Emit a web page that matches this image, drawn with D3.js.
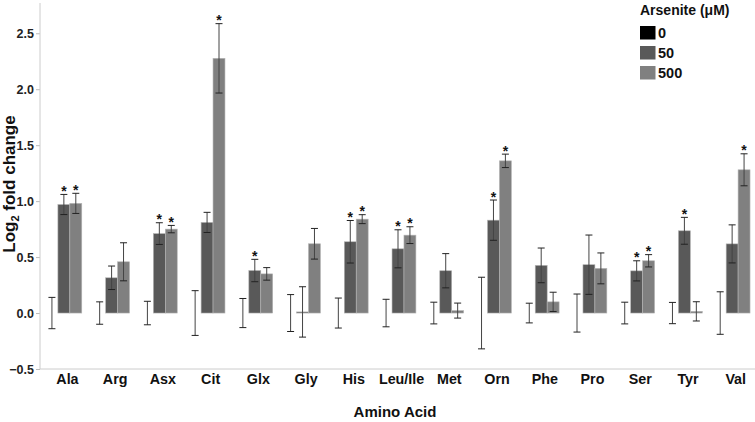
<!DOCTYPE html>
<html><head><meta charset="utf-8">
<script src="https://cdn.jsdelivr.net/npm/d3@7/dist/d3.min.js"></script>
<style>body{margin:0;background:#fff}svg{display:block;font-family:"Liberation Sans",Arial,sans-serif}</style>
</head><body><svg id="c" width="755" height="422"></svg>
<script>
const categories = ["Ala","Arg","Asx","Cit","Glx","Gly","His","Leu/Ile","Met","Orn","Phe","Pro","Ser","Tyr","Val"];
const seriesNames = ["0","50","500"];
const values0   = [0,0,0,0,0,0,0,0,0,0,0,0,0,0,0];
const errors0   = [0.14,0.10,0.105,0.20,0.13,0.165,0.134,0.123,0.097,0.32,0.088,0.17,0.097,0.095,0.19];
const values50  = [0.97,0.315,0.71,0.81,0.38,0.01,0.637,0.574,0.378,0.83,0.426,0.432,0.377,0.735,0.618];
const errors50  = [0.09,0.105,0.097,0.09,0.10,0.225,0.19,0.17,0.153,0.18,0.155,0.265,0.09,0.12,0.17];
const values500 = [0.98,0.458,0.75,2.276,0.35,0.619,0.839,0.696,0.022,1.36,0.10,0.399,0.467,0.015,1.28];
const errors500 = [0.09,0.17,0.033,0.31,0.056,0.137,0.04,0.075,0.067,0.06,0.086,0.138,0.055,0.086,0.143];
const sig50  = [1,0,1,0,1,0,1,1,0,1,0,0,1,1,0];
const sig500 = [1,0,1,1,0,0,1,1,0,1,0,0,1,0,1];
const yTicks = [-0.5,0,0.5,1.0,1.5,2.0,2.5];
const colors = ["#000000","#595959","#808080"];
const legendTitle = "Arsenite (\u03bcM)";

const svg = d3.select("#c");
const mLeft = 40, mRight = 756, mTop = 3, mBottom = 369;
const x = d3.scaleBand().domain(categories).range([mLeft, mRight]);
const slot = x.bandwidth()/4;
const y = d3.scaleLinear().domain([-0.5, 2.75]).range([mBottom, 5.3]);

// y axis
const yAxis = svg.append("g").attr("transform",`translate(${mLeft},0)`)
  .call(d3.axisLeft(y).tickValues(yTicks).tickFormat(d3.format(".1f")).tickSize(4).tickSizeOuter(0));
yAxis.select(".domain").remove();
yAxis.selectAll(".tick line").attr("stroke","#bbb");
yAxis.selectAll(".tick text").attr("font-size",12.5).attr("font-weight","bold").attr("fill","#222").attr("x",-6)
  .attr("font-family","Liberation Sans, Arial, sans-serif");
svg.append("line").attr("x1",mLeft).attr("x2",mLeft).attr("y1",mTop).attr("y2",mBottom).attr("stroke","#ccc");
svg.append("line").attr("x1",mLeft).attr("x2",mRight).attr("y1",mBottom).attr("y2",mBottom).attr("stroke","#ccc");

// x labels
svg.append("g").selectAll("text").data(categories).join("text")
  .attr("x",d=>x(d)+slot*2.3).attr("y",384).attr("text-anchor","middle")
  .attr("font-size",14.3).attr("font-weight","bold").attr("fill","#111").text(d=>d);

const series = [
  {vals:values0, errs:errors0, sig:null},
  {vals:values50, errs:errors50, sig:sig50},
  {vals:values500, errs:errors500, sig:sig500}
];
series.forEach((s,si)=>{
  const g = svg.append("g");
  const data = categories.map((c,i)=>({c, v:s.vals[i], e:s.errs[i], sig:s.sig?s.sig[i]:0}));
  const bx = d=>x(d.c)+slot*(0.5+si);
  g.selectAll("rect").data(data).join("rect")
    .attr("x",bx).attr("width",slot)
    .attr("y",d=>Math.min(y(d.v),y(0))).attr("height",d=>Math.abs(y(d.v)-y(0)))
    .attr("fill",colors[si]).attr("stroke","#b5b5b5").attr("stroke-width",0.6);
  const cx = d=>bx(d)+slot/2;
  g.selectAll("line.v").data(data).join("line").attr("class","v")
    .attr("x1",cx).attr("x2",cx).attr("y1",d=>y(d.v+d.e)).attr("y2",d=>y(d.v-d.e))
    .attr("stroke","#444").attr("stroke-width",1);
  [1,-1].forEach(sg=>{
    g.selectAll("line.c"+(sg>0?"t":"b")).data(data).join("line").attr("class","c"+(sg>0?"t":"b"))
      .attr("x1",d=>cx(d)-3.5).attr("x2",d=>cx(d)+3.5)
      .attr("y1",d=>y(d.v+sg*d.e)).attr("y2",d=>y(d.v+sg*d.e))
      .attr("stroke","#222").attr("stroke-width",1);
  });
  g.selectAll("text").data(data.filter(d=>d.sig)).join("text")
    .attr("x",cx).attr("y",d=>y(d.v+d.e)+1.5).attr("text-anchor","middle")
    .attr("font-size",14).attr("font-weight","bold").attr("fill","#111").text("*");
});

// axis titles
svg.append("text").attr("x",395).attr("y",417).attr("text-anchor","middle")
  .attr("font-size",15).attr("font-weight","bold").attr("fill","#111").text("Amino Acid");
const yt = svg.append("text").attr("transform","translate(15,184) rotate(-90)").attr("text-anchor","middle")
  .attr("font-size",17).attr("font-weight","bold").attr("fill","#111");
yt.append("tspan").text("Log");
yt.append("tspan").attr("font-size",11).attr("dy",4).text("2");
yt.append("tspan").attr("dy",-4).text(" fold change");

// legend
const lg = svg.append("g");
lg.append("text").attr("x",640).attr("y",15).attr("font-size",14).attr("font-weight","bold").attr("fill","#111").text(legendTitle);
seriesNames.forEach((n,i)=>{
  lg.append("rect").attr("x",640).attr("y",26+i*20).attr("width",15.5).attr("height",13.5).attr("fill",colors[i]);
  lg.append("text").attr("x",658).attr("y",38+i*20).attr("font-size",14.5).attr("font-weight","bold").attr("fill","#111").text(n);
});
</script></body></html>
